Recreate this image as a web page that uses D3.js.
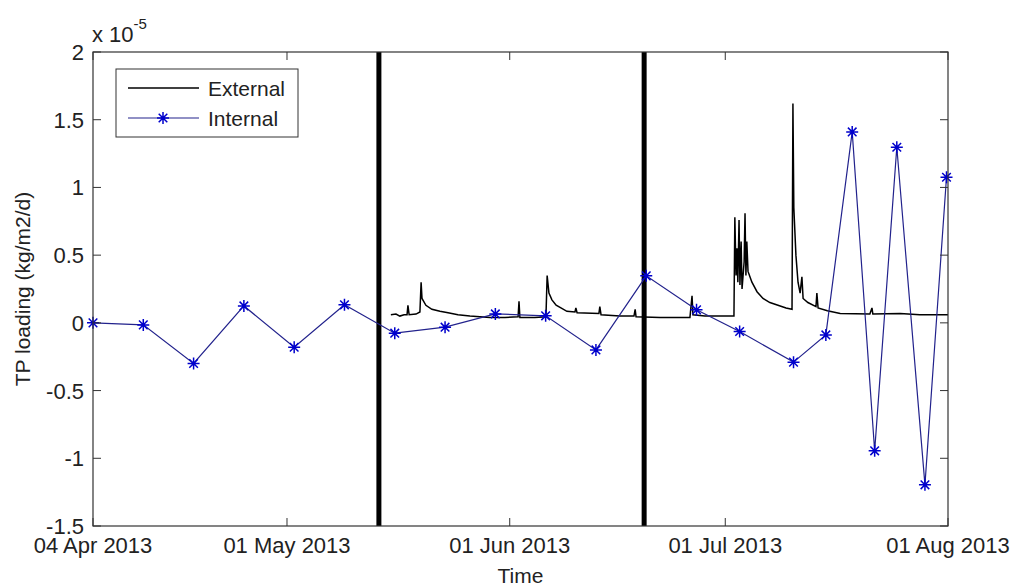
<!DOCTYPE html>
<html>
<head>
<meta charset="utf-8">
<script src="https://d3js.org/d3.v7.min.js"></script>
<style>
  body { margin: 0; background: #fff; }
  text { font-family: "Liberation Sans", Arial, sans-serif; fill: #222; }
</style>
</head>
<body>
<div id="chart"></div>
<script>
// Internal loading (x 1e-5 kg/m2/d), one sample per marker
const internalDates = ['2013-04-04 00', '2013-04-11 00', '2013-04-18 00', '2013-04-25 00', '2013-05-02 00',
  '2013-05-09 00', '2013-05-16 00', '2013-05-23 00', '2013-05-30 00', '2013-06-06 00', '2013-06-13 00',
  '2013-06-20 00', '2013-06-27 00', '2013-07-03 00', '2013-07-10 12', '2013-07-15 00', '2013-07-18 16',
  '2013-07-21 19', '2013-07-24 21', '2013-07-28 19', '2013-07-31 19'];
const internalValues = [0.0, -0.015, -0.30, 0.125, -0.18, 0.133, -0.076, -0.032, 0.066, 0.052, -0.20,
  0.347, 0.096, -0.064, -0.29, -0.089, 1.41, -0.945, 1.297, -1.196, 1.075];

// External loading, vertices of the logged series
const externalDates = ['2013-05-15 11', '2013-05-16 04', '2013-05-16 17', '2013-05-17 07', '2013-05-17 17',
  '2013-05-17 20', '2013-05-18 00', '2013-05-18 23', '2013-05-19 12', '2013-05-19 16', '2013-05-19 19',
  '2013-05-20 08', '2013-05-21 04', '2013-05-22 07', '2013-05-23 10', '2013-05-24 19', '2013-05-26 11',
  '2013-05-29 06', '2013-05-31 08', '2013-06-02 04', '2013-06-02 07', '2013-06-02 10', '2013-06-04 12',
  '2013-06-06 01', '2013-06-06 05', '2013-06-06 11', '2013-06-06 21', '2013-06-07 11', '2013-06-08 03',
  '2013-06-08 23', '2013-06-10 02', '2013-06-10 05', '2013-06-10 09', '2013-06-13 10', '2013-06-13 13',
  '2013-06-13 17', '2013-06-16 08', '2013-06-18 07', '2013-06-18 11', '2013-06-18 14', '2013-06-21 22',
  '2013-06-26 02', '2013-06-26 09', '2013-06-26 12', '2013-06-28 04', '2013-07-02 05', '2013-07-02 08',
  '2013-07-02 12', '2013-07-02 15', '2013-07-02 18', '2013-07-02 22', '2013-07-03 01', '2013-07-03 05',
  '2013-07-03 08', '2013-07-03 15', '2013-07-03 18', '2013-07-03 21', '2013-07-04 00', '2013-07-04 04',
  '2013-07-04 17', '2013-07-05 10', '2013-07-06 06', '2013-07-07 05', '2013-07-08 08', '2013-07-09 11',
  '2013-07-10 07', '2013-07-10 10', '2013-07-10 13', '2013-07-10 20', '2013-07-11 03', '2013-07-11 10',
  '2013-07-11 16', '2013-07-11 20', '2013-07-12 12', '2013-07-13 15', '2013-07-13 18', '2013-07-13 22',
  '2013-07-15 05', '2013-07-17 00', '2013-07-21 03', '2013-07-21 10', '2013-07-21 13', '2013-07-25 08',
  '2013-07-28 02', '2013-08-01 00'];
const externalValues = [0.06, 0.065, 0.05, 0.06, 0.06,
  0.13, 0.06, 0.065, 0.08, 0.30, 0.18,
  0.13, 0.10, 0.085, 0.075, 0.06, 0.05,
  0.04, 0.04, 0.045, 0.16, 0.04, 0.04,
  0.045, 0.35, 0.22, 0.17, 0.13, 0.11,
  0.085, 0.08, 0.11, 0.075, 0.07, 0.12,
  0.06, 0.05, 0.05, 0.10, 0.045, 0.04,
  0.04, 0.20, 0.06, 0.05, 0.05, 0.78,
  0.35, 0.55, 0.30, 0.76, 0.28, 0.60,
  0.25, 0.45, 0.81, 0.35, 0.60, 0.38,
  0.30, 0.23, 0.18, 0.15, 0.13, 0.11,
  0.10, 1.62, 0.85, 0.50, 0.30, 0.22,
  0.34, 0.18, 0.15, 0.12, 0.22, 0.11,
  0.09, 0.07, 0.065, 0.11, 0.065, 0.07,
  0.06, 0.06];

// Period boundaries (thick vertical lines)
const periodDates = ['2013-05-13 19', '2013-06-19 17'];

const xDomain = ['2013-04-04 00', '2013-08-01 00'];
const xTickDates = ['2013-04-04 00', '2013-05-01 00', '2013-06-01 00', '2013-07-01 00', '2013-08-01 00'];
const xTickLabels = ['04 Apr 2013', '01 May 2013', '01 Jun 2013', '01 Jul 2013', '01 Aug 2013'];
const yTicks = [-1.5, -1, -0.5, 0, 0.5, 1, 1.5, 2];
const yTickLabels = ['-1.5', '-1', '-0.5', '0', '0.5', '1', '1.5', '2'];
const legendLabels = ['External', 'Internal'];

const parse = d3.timeParse('%Y-%m-%d %H');

const margin = { top: 52, right: 68, bottom: 62, left: 93 };
const width = 1016 - margin.left - margin.right;
const height = 588 - margin.top - margin.bottom;

const x = d3.scaleTime().domain(xDomain.map(parse)).range([0, width]);
const y = d3.scaleLinear().domain([-1.5, 2]).range([height, 0]);

const svg = d3.select('#chart').append('svg')
  .attr('width', 1016)
  .attr('height', 588);

const g = svg.append('g')
  .attr('transform', `translate(${margin.left},${margin.top})`);

const axisColor = '#333';
const tickLen = 8;

// Period lines
g.selectAll('.period')
  .data(periodDates.map(parse))
  .enter().append('line')
  .attr('x1', d => x(d)).attr('x2', d => x(d))
  .attr('y1', 0).attr('y2', height)
  .attr('stroke', '#000')
  .attr('stroke-width', 5);

// External line
const external = externalDates.map((d, i) => ({ date: parse(d), value: externalValues[i] }));
g.append('path')
  .datum(external)
  .attr('fill', 'none')
  .attr('stroke', '#000')
  .attr('stroke-width', 1.5)
  .attr('stroke-linejoin', 'miter')
  .attr('d', d3.line().x(d => x(d.date)).y(d => y(d.value)));

// Internal line + star markers
const internal = internalDates.map((d, i) => ({ date: parse(d), value: internalValues[i] }));
g.append('path')
  .datum(internal)
  .attr('fill', 'none')
  .attr('stroke', '#22228c')
  .attr('stroke-width', 1.2)
  .attr('d', d3.line().x(d => x(d.date)).y(d => y(d.value)));

const starPath = 'M-6,0H6M0,-6V6M-4.3,-4.3L4.3,4.3M-4.3,4.3L4.3,-4.3';
g.selectAll('.star')
  .data(internal)
  .enter().append('path')
  .attr('transform', d => `translate(${x(d.date)},${y(d.value)})`)
  .attr('d', starPath)
  .attr('stroke', '#0000cc')
  .attr('stroke-width', 1.5)
  .attr('fill', 'none');

// Axes box
g.append('rect')
  .attr('width', width).attr('height', height)
  .attr('fill', 'none')
  .attr('stroke', axisColor)
  .attr('stroke-width', 1.2);

// X ticks (inside, bottom and top)
const xt = xTickDates.map(parse);
xt.forEach((d, i) => {
  const px = x(d);
  g.append('line').attr('x1', px).attr('x2', px).attr('y1', height).attr('y2', height - tickLen)
    .attr('stroke', axisColor);
  g.append('line').attr('x1', px).attr('x2', px).attr('y1', 0).attr('y2', tickLen)
    .attr('stroke', axisColor);
  g.append('text')
    .attr('x', px).attr('y', height + 27)
    .attr('text-anchor', 'middle')
    .style('font-size', '22px')
    .text(xTickLabels[i]);
});

// Y ticks (inside, left and right)
yTicks.forEach((v, i) => {
  const py = y(v);
  g.append('line').attr('x1', 0).attr('x2', tickLen).attr('y1', py).attr('y2', py)
    .attr('stroke', axisColor);
  g.append('line').attr('x1', width).attr('x2', width - tickLen).attr('y1', py).attr('y2', py)
    .attr('stroke', axisColor);
  g.append('text')
    .attr('x', -9).attr('y', py + 8)
    .attr('text-anchor', 'end')
    .style('font-size', '22px')
    .text(yTickLabels[i]);
});

// Exponent label
const expo = g.append('text').attr('x', -1).attr('y', -10).style('font-size', '22px');
expo.append('tspan').text('x 10');
expo.append('tspan').attr('dy', -13).style('font-size', '15px').text('-5');

// Axis titles
svg.append('text')
  .attr('x', margin.left + width / 2).attr('y', 583)
  .attr('text-anchor', 'middle')
  .style('font-size', '21px')
  .text('Time');

svg.append('text')
  .attr('transform', `translate(30,${margin.top + height / 2}) rotate(-90)`)
  .attr('text-anchor', 'middle')
  .style('font-size', '21px')
  .text('TP loading (kg/m2/d)');

// Legend
const lg = svg.append('g').attr('transform', 'translate(116,69)');
lg.append('rect')
  .attr('width', 182).attr('height', 68)
  .attr('fill', '#fff')
  .attr('stroke', axisColor);
legendLabels.forEach((label, i) => {
  const ly = 19 + i * 30;
  lg.append('line')
    .attr('x1', 12).attr('x2', 83).attr('y1', ly).attr('y2', ly)
    .attr('stroke', i === 0 ? '#000' : '#22228c')
    .attr('stroke-width', i === 0 ? 1.5 : 1.2);
  if (i === 1) {
    lg.append('path')
      .attr('transform', `translate(47,${ly})`)
      .attr('d', starPath)
      .attr('stroke', '#0000cc')
      .attr('stroke-width', 1.5)
      .attr('fill', 'none');
  }
  lg.append('text')
    .attr('x', 92).attr('y', ly + 8)
    .style('font-size', '21px')
    .text(label);
});
</script>
</body>
</html>
